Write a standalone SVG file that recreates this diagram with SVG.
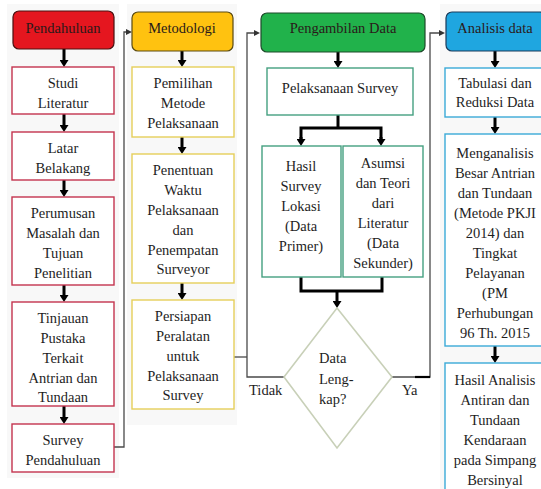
<svg xmlns="http://www.w3.org/2000/svg" width="541" height="489" viewBox="0 0 541 489">
<defs>
<style>
.bg{fill:#f8f8f8;stroke:none}
.t,.th,.tl{font-family:'Liberation Serif','Tinos','DejaVu Serif',serif;font-size:14.5px}
.t{fill:#1e1e1e;text-anchor:middle}
.th{fill:#2a1a1a;text-anchor:middle}
.tl{fill:#1e1e1e}
.b1{fill:#fff;stroke:#C4344F;stroke-width:1.4}
.b2{fill:#fff;stroke:#E6CF5A;stroke-width:1.4}
.b3{fill:#fff;stroke:#45A080;stroke-width:1.4}
.b4{fill:#fff;stroke:#3BAAD8;stroke-width:1.4}
.thick{fill:none;stroke:#000;stroke-width:3}
.thin{fill:none;stroke:#4a4a4a;stroke-width:1.3}
</style>
<marker id="ah" viewBox="0 -4.5 7 9" markerUnits="userSpaceOnUse" markerWidth="7" markerHeight="9" refX="0" refY="0" orient="auto">
<path d="M0,-4.5 L7,0 L0,4.5 z" fill="#000"/>
</marker>
<marker id="as" viewBox="0 -3 6 6" markerUnits="userSpaceOnUse" markerWidth="6" markerHeight="6" refX="0" refY="0" orient="auto">
<path d="M0,-3 L6,0 L0,3 z" fill="#333"/>
</marker>
</defs>
<rect width="541" height="489" fill="#fff"/>
<rect class="bg" x="7" y="4" width="112" height="474"/>
<rect class="bg" x="127" y="4" width="110" height="421"/>
<rect class="bg" x="440" y="4" width="101" height="485"/>

<g id="connectors">
<line class="thick" x1="64" y1="49" x2="64" y2="60" marker-end="url(#ah)"/>
<line class="thick" x1="64" y1="114" x2="64" y2="125" marker-end="url(#ah)"/>
<line class="thick" x1="64" y1="180" x2="64" y2="190" marker-end="url(#ah)"/>
<line class="thick" x1="64" y1="285" x2="64" y2="295" marker-end="url(#ah)"/>
<line class="thick" x1="64" y1="406" x2="64" y2="417" marker-end="url(#ah)"/>
<line class="thick" x1="182" y1="51" x2="182" y2="60" marker-end="url(#ah)"/>
<line class="thick" x1="182" y1="137" x2="182" y2="147" marker-end="url(#ah)"/>
<line class="thick" x1="182" y1="283" x2="182" y2="293" marker-end="url(#ah)"/>
<line class="thick" x1="338" y1="52" x2="338" y2="61" marker-end="url(#ah)"/>
<polyline class="thick" points="338,115 338,128"/>
<polyline class="thick" points="301,139 301,128 381,128 381,139"/>
<line class="thick" x1="301" y1="137" x2="301" y2="139" marker-end="url(#ah)"/>
<line class="thick" x1="381" y1="137" x2="381" y2="139" marker-end="url(#ah)"/>
<polyline class="thick" points="301,277 301,291 382,291 382,277"/>
<line class="thick" x1="337" y1="291" x2="337" y2="301" marker-end="url(#ah)"/>
<line class="thick" x1="495" y1="51" x2="495" y2="61" marker-end="url(#ah)"/>
<line class="thick" x1="495" y1="117" x2="495" y2="127" marker-end="url(#ah)"/>
<line class="thick" x1="495" y1="346" x2="495" y2="356" marker-end="url(#ah)"/>
<polyline class="thin" points="114,447 124,447 124,32 126,32" marker-end="url(#as)"/>
<polyline class="thin" points="234,357 247,357"/>
<polyline class="thin" points="284,377 247,377 247,33 254,33" marker-end="url(#as)"/>
<polyline class="thin" points="392,377 430,377 430,33 439,33" marker-end="url(#as)"/>
<line x1="415" y1="377" x2="430" y2="377" stroke="#000" stroke-width="2.2"/>
</g>

<g id="pendahuluan">
<rect x="13" y="11" width="101" height="38" rx="6" fill="#E5161F" stroke="#4a1010" stroke-width="1.2"/>
<text class="th" x="63" y="33">Pendahuluan</text>
</g>
<g id="studi-literatur">
<rect class="b1" x="12" y="67" width="102" height="47"/>
<text class="t" x="63" y="88">Studi</text>
<text class="t" x="63" y="108">Literatur</text>
</g>
<g id="latar-belakang">
<rect class="b1" x="12" y="132" width="102" height="48"/>
<text class="t" x="63" y="153">Latar</text>
<text class="t" x="63" y="173">Belakang</text>
</g>
<g id="perumusan">
<rect class="b1" x="12" y="197" width="102" height="88"/>
<text class="t" x="63" y="218">Perumusan</text>
<text class="t" x="63" y="238">Masalah dan</text>
<text class="t" x="63" y="258">Tujuan</text>
<text class="t" x="63" y="278">Penelitian</text>
</g>
<g id="tinjauan">
<rect class="b1" x="12" y="302" width="102" height="104"/>
<text class="t" x="63" y="323">Tinjauan</text>
<text class="t" x="63" y="343">Pustaka</text>
<text class="t" x="63" y="363">Terkait</text>
<text class="t" x="63" y="383">Antrian dan</text>
<text class="t" x="63" y="402">Tundaan</text>
</g>
<g id="survey-pendahuluan">
<rect class="b1" x="12" y="424" width="102" height="48"/>
<text class="t" x="63" y="445">Survey</text>
<text class="t" x="63" y="465">Pendahuluan</text>
</g>

<g id="metodologi">
<rect x="132" y="12" width="101" height="39" rx="6" fill="#FFC210" stroke="#5a4a10" stroke-width="1.2"/>
<text class="th" x="182" y="33">Metodologi</text>
</g>
<g id="pemilihan">
<rect class="b2" x="132" y="67" width="102" height="70"/>
<text class="t" x="183" y="88">Pemilihan</text>
<text class="t" x="183" y="108">Metode</text>
<text class="t" x="183" y="128">Pelaksanaan</text>
</g>
<g id="penentuan">
<rect class="b2" x="132" y="154" width="102" height="129"/>
<text class="t" x="183" y="175">Penentuan</text>
<text class="t" x="183" y="195">Waktu</text>
<text class="t" x="183" y="215">Pelaksanaan</text>
<text class="t" x="183" y="235">dan</text>
<text class="t" x="183" y="255">Penempatan</text>
<text class="t" x="183" y="274">Surveyor</text>
</g>
<g id="persiapan">
<rect class="b2" x="132" y="300" width="102" height="109"/>
<text class="t" x="183" y="321">Persiapan</text>
<text class="t" x="183" y="341">Peralatan</text>
<text class="t" x="183" y="361">untuk</text>
<text class="t" x="183" y="381">Pelaksanaan</text>
<text class="t" x="183" y="400">Survey</text>
</g>

<g id="pengambilan-data">
<rect x="261" y="13" width="164" height="39" rx="6" fill="#21B24B" stroke="#1d4a2a" stroke-width="1.2"/>
<text class="th" x="343" y="33">Pengambilan Data</text>
</g>
<g id="pelaksanaan-survey">
<rect class="b3" x="267" y="68" width="146" height="47"/>
<text class="t" x="340" y="93">Pelaksanaan Survey</text>
</g>
<g id="hasil-survey">
<rect class="b3" x="262" y="146" width="79" height="131"/>
<text class="t" x="301" y="171">Hasil</text>
<text class="t" x="301" y="191">Survey</text>
<text class="t" x="301" y="211">Lokasi</text>
<text class="t" x="301" y="231">(Data</text>
<text class="t" x="301" y="251">Primer)</text>
</g>
<g id="asumsi">
<rect class="b3" x="343" y="146" width="80" height="131"/>
<text class="t" x="383" y="168">Asumsi</text>
<text class="t" x="383" y="188">dan Teori</text>
<text class="t" x="383" y="208">dari</text>
<text class="t" x="383" y="228">Literatur</text>
<text class="t" x="383" y="248">(Data</text>
<text class="t" x="383" y="268">Sekunder)</text>
</g>
<g id="data-lengkap">
<polygon points="337,308 392,377 337,448 284,377" fill="#fff" stroke="#C8D0B8" stroke-width="1.6"/>
<text class="tl" x="319" y="363">Data</text>
<text class="tl" x="319" y="384">Leng-</text>
<text class="tl" x="319" y="404">kap?</text>
</g>
<text class="tl" x="249" y="395">Tidak</text>
<text class="tl" x="402" y="395">Ya</text>

<g id="analisis-data">
<rect x="446" y="12" width="100" height="39" rx="6" fill="#1FA6E0" stroke="#1a3a5a" stroke-width="1.2"/>
<text class="th" x="495" y="33">Analisis data</text>
</g>
<g id="tabulasi">
<rect class="b4" x="445" y="68" width="100" height="49"/>
<text class="t" x="495" y="88">Tabulasi dan</text>
<text class="t" x="495" y="107">Reduksi Data</text>
</g>
<g id="menganalisis">
<rect class="b4" x="445" y="134" width="100" height="212"/>
<text class="t" x="495" y="158">Menganalisis</text>
<text class="t" x="495" y="178">Besar Antrian</text>
<text class="t" x="495" y="198">dan Tundaan</text>
<text class="t" x="495" y="218">(Metode PKJI</text>
<text class="t" x="495" y="238">2014) dan</text>
<text class="t" x="495" y="258">Tingkat</text>
<text class="t" x="495" y="278">Pelayanan</text>
<text class="t" x="495" y="298">(PM</text>
<text class="t" x="495" y="318">Perhubungan</text>
<text class="t" x="495" y="338">96 Th. 2015</text>
</g>
<g id="hasil-analisis">
<rect class="b4" x="445" y="363" width="100" height="130"/>
<text class="t" x="495" y="385">Hasil Analisis</text>
<text class="t" x="495" y="405">Antiran dan</text>
<text class="t" x="495" y="425">Tundaan</text>
<text class="t" x="495" y="445">Kendaraan</text>
<text class="t" x="495" y="465">pada Simpang</text>
<text class="t" x="495" y="485">Bersinyal</text>
</g>
</svg>
